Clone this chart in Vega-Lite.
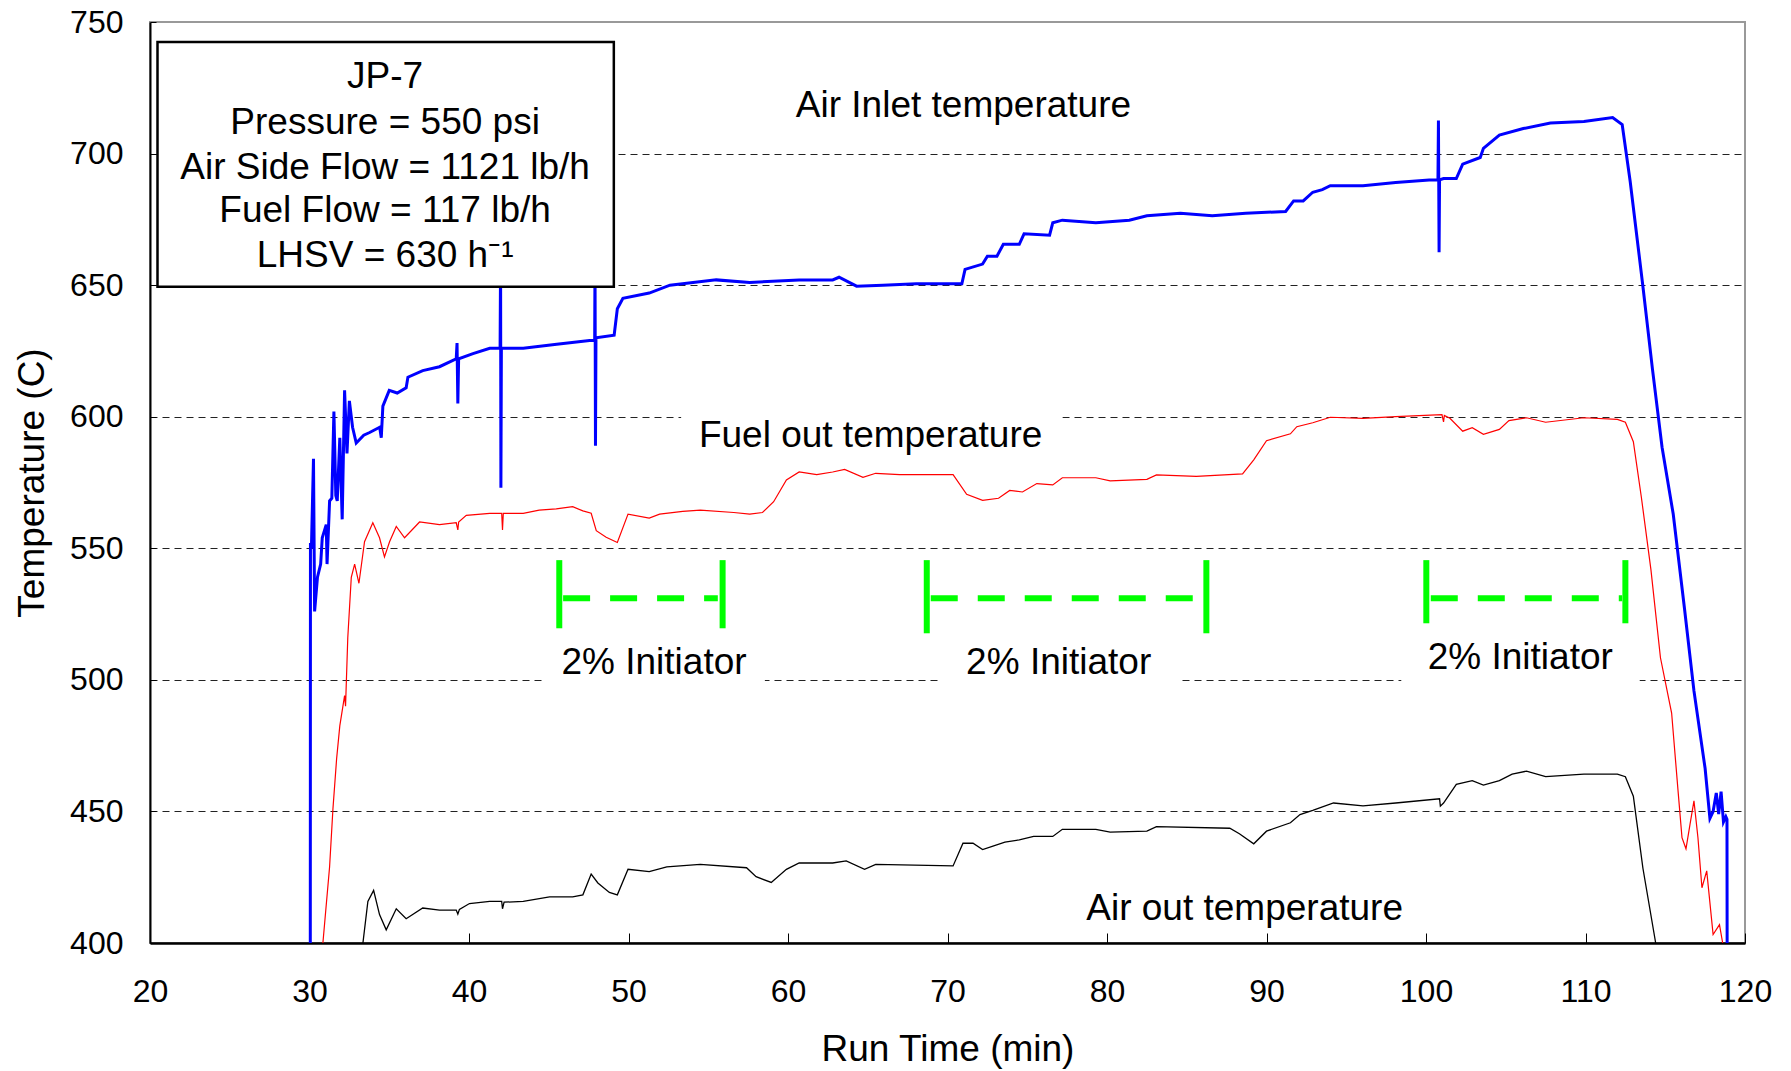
{
  "$schema": "https://vega.github.io/schema/vega-lite/v6.json",
  "width": 1595,
  "height": 921,
  "autosize": {"type": "none"},
  "padding": {"left": 150, "top": 22, "right": 46, "bottom": 128},
  "background": "white",
  "config": {
    "font": "Liberation Sans",
    "view": {"stroke": "#999999", "strokeWidth": 2}
  },
  "datasets": {
    "air_inlet": [
      {"t": 30.05, "temp": 400}, {"t": 30.06, "temp": 552}, {"t": 30.12, "temp": 550}, {"t": 30.25, "temp": 584},
      {"t": 30.32, "temp": 526}, {"t": 30.5, "temp": 539}, {"t": 30.7, "temp": 544}, {"t": 30.8, "temp": 554},
      {"t": 31.05, "temp": 559}, {"t": 31.1, "temp": 544}, {"t": 31.26, "temp": 568}, {"t": 31.4, "temp": 569},
      {"t": 31.53, "temp": 602}, {"t": 31.65, "temp": 570}, {"t": 31.74, "temp": 568}, {"t": 31.9, "temp": 592},
      {"t": 32.05, "temp": 561}, {"t": 32.2, "temp": 610}, {"t": 32.35, "temp": 586}, {"t": 32.5, "temp": 606},
      {"t": 32.7, "temp": 596}, {"t": 32.93, "temp": 590}, {"t": 33.4, "temp": 593}, {"t": 33.77, "temp": 594},
      {"t": 34.4, "temp": 596}, {"t": 34.5, "temp": 592}, {"t": 34.6, "temp": 604}, {"t": 35.0, "temp": 610},
      {"t": 35.5, "temp": 609}, {"t": 36.06, "temp": 611}, {"t": 36.17, "temp": 615}, {"t": 37.1, "temp": 617.5},
      {"t": 38.15, "temp": 619}, {"t": 39.2, "temp": 622}, {"t": 39.25, "temp": 628}, {"t": 39.3, "temp": 605},
      {"t": 39.35, "temp": 622}, {"t": 40.25, "temp": 624}, {"t": 41.3, "temp": 626}, {"t": 41.95, "temp": 626},
      {"t": 41.98, "temp": 660}, {"t": 42.0, "temp": 573}, {"t": 42.03, "temp": 626}, {"t": 43.4, "temp": 626},
      {"t": 45.5, "temp": 627.5}, {"t": 47.56, "temp": 629}, {"t": 47.88, "temp": 629}, {"t": 47.9, "temp": 660},
      {"t": 47.93, "temp": 589}, {"t": 47.96, "temp": 630}, {"t": 49.1, "temp": 631}, {"t": 49.3, "temp": 641},
      {"t": 49.65, "temp": 645}, {"t": 51.3, "temp": 647}, {"t": 52.6, "temp": 650}, {"t": 55.5, "temp": 652},
      {"t": 57.6, "temp": 651}, {"t": 60.7, "temp": 652}, {"t": 62.8, "temp": 652}, {"t": 63.2, "temp": 653},
      {"t": 64.3, "temp": 649.6}, {"t": 65.95, "temp": 650}, {"t": 68.05, "temp": 650.5}, {"t": 70.9, "temp": 650.5},
      {"t": 71.1, "temp": 656}, {"t": 72.2, "temp": 658}, {"t": 72.5, "temp": 661}, {"t": 73.1, "temp": 661},
      {"t": 73.5, "temp": 665.5}, {"t": 74.5, "temp": 665.5}, {"t": 74.8, "temp": 669.5}, {"t": 76.4, "temp": 669},
      {"t": 76.6, "temp": 673.7}, {"t": 77.2, "temp": 674.7}, {"t": 79.3, "temp": 673.7}, {"t": 81.4, "temp": 674.7},
      {"t": 82.5, "temp": 676.4}, {"t": 84.6, "temp": 677.3}, {"t": 86.6, "temp": 676.4}, {"t": 88.7, "temp": 677.3},
      {"t": 91.2, "temp": 678}, {"t": 91.7, "temp": 682}, {"t": 92.3, "temp": 682}, {"t": 92.9, "temp": 685.3},
      {"t": 93.5, "temp": 686.3}, {"t": 94.0, "temp": 687.8}, {"t": 96.05, "temp": 687.8}, {"t": 98.1, "temp": 689},
      {"t": 100.2, "temp": 690}, {"t": 100.75, "temp": 690}, {"t": 100.78, "temp": 712.6}, {"t": 100.82, "temp": 662.5},
      {"t": 100.85, "temp": 690}, {"t": 101.1, "temp": 690.5}, {"t": 101.9, "temp": 690.5}, {"t": 102.3, "temp": 696},
      {"t": 103.4, "temp": 698.5}, {"t": 103.6, "temp": 702}, {"t": 104.6, "temp": 707}, {"t": 106.1, "temp": 709.5},
      {"t": 107.8, "temp": 711.6}, {"t": 109.9, "temp": 712.2}, {"t": 111.7, "temp": 713.7}, {"t": 112.3, "temp": 711},
      {"t": 112.8, "temp": 689.5}, {"t": 113.6, "temp": 649.5}, {"t": 114.2, "temp": 618}, {"t": 114.8, "temp": 588.4},
      {"t": 115.5, "temp": 563}, {"t": 116.2, "temp": 527.4}, {"t": 116.8, "temp": 495.8}, {"t": 117.5, "temp": 466.3},
      {"t": 117.8, "temp": 447.4}, {"t": 118.0, "temp": 450}, {"t": 118.2, "temp": 457}, {"t": 118.35, "temp": 449},
      {"t": 118.5, "temp": 457.5}, {"t": 118.65, "temp": 446}, {"t": 118.8, "temp": 448}, {"t": 118.87, "temp": 447},
      {"t": 118.88, "temp": 400}
    ],
    "fuel_out": [
      {"t": 30.84, "temp": 400}, {"t": 31.26, "temp": 429}, {"t": 31.47, "temp": 451}, {"t": 31.7, "temp": 470},
      {"t": 31.9, "temp": 482.5}, {"t": 32.2, "temp": 494}, {"t": 32.26, "temp": 490}, {"t": 32.4, "temp": 516},
      {"t": 32.62, "temp": 539}, {"t": 32.83, "temp": 544}, {"t": 33.1, "temp": 536.7}, {"t": 33.45, "temp": 552.5},
      {"t": 33.97, "temp": 559.7}, {"t": 34.39, "temp": 554}, {"t": 34.7, "temp": 546.7}, {"t": 35.02, "temp": 552.5},
      {"t": 35.44, "temp": 558.3}, {"t": 35.96, "temp": 554}, {"t": 36.9, "temp": 560}, {"t": 38.15, "temp": 559},
      {"t": 39.2, "temp": 559.7}, {"t": 39.3, "temp": 557}, {"t": 39.35, "temp": 560}, {"t": 39.83, "temp": 562.5},
      {"t": 41.3, "temp": 563.3}, {"t": 42.05, "temp": 563.3}, {"t": 42.1, "temp": 557}, {"t": 42.15, "temp": 563.3},
      {"t": 43.4, "temp": 563.3}, {"t": 44.4, "temp": 564.5}, {"t": 45.47, "temp": 565}, {"t": 46.5, "temp": 565.8},
      {"t": 47.14, "temp": 564.2}, {"t": 47.66, "temp": 563.3}, {"t": 47.98, "temp": 556.7}, {"t": 48.6, "temp": 554.2},
      {"t": 49.3, "temp": 552.2}, {"t": 49.97, "temp": 563}, {"t": 51.3, "temp": 561.5}, {"t": 51.95, "temp": 563},
      {"t": 53.4, "temp": 564}, {"t": 54.5, "temp": 564.5}, {"t": 56.6, "temp": 563.6}, {"t": 57.6, "temp": 563},
      {"t": 58.4, "temp": 563.6}, {"t": 59.1, "temp": 567.7}, {"t": 59.9, "temp": 576}, {"t": 60.7, "temp": 579},
      {"t": 61.8, "temp": 578}, {"t": 62.8, "temp": 579}, {"t": 63.55, "temp": 580}, {"t": 64.7, "temp": 577},
      {"t": 65.5, "temp": 578.5}, {"t": 67.0, "temp": 578}, {"t": 70.35, "temp": 578}, {"t": 71.2, "temp": 570.5},
      {"t": 72.2, "temp": 568.2}, {"t": 73.2, "temp": 569}, {"t": 73.9, "temp": 572}, {"t": 74.7, "temp": 571.4},
      {"t": 75.6, "temp": 574.6}, {"t": 76.6, "temp": 574.1}, {"t": 77.2, "temp": 576.8}, {"t": 79.3, "temp": 576.8},
      {"t": 80.2, "temp": 575.6}, {"t": 82.5, "temp": 576.2}, {"t": 83.1, "temp": 577.9}, {"t": 85.6, "temp": 577.3},
      {"t": 88.5, "temp": 578.3}, {"t": 89.2, "temp": 583.6}, {"t": 90.0, "temp": 590.9}, {"t": 91.5, "temp": 593.5},
      {"t": 91.9, "temp": 596.2}, {"t": 92.9, "temp": 597.7}, {"t": 94.0, "temp": 599.8}, {"t": 96.05, "temp": 599.4},
      {"t": 98.1, "temp": 600}, {"t": 101.0, "temp": 600.8}, {"t": 101.1, "temp": 598}, {"t": 101.15, "temp": 600.5},
      {"t": 101.5, "temp": 599.4}, {"t": 102.3, "temp": 594.5}, {"t": 102.9, "temp": 595.8}, {"t": 103.6, "temp": 593.3},
      {"t": 104.6, "temp": 595.2}, {"t": 105.2, "temp": 598.5}, {"t": 106.3, "temp": 599.6}, {"t": 107.5, "temp": 597.9},
      {"t": 109.9, "temp": 599.6}, {"t": 112.0, "temp": 599}, {"t": 112.5, "temp": 597.9}, {"t": 113.0, "temp": 590.5},
      {"t": 113.5, "temp": 569.5}, {"t": 114.1, "temp": 542}, {"t": 114.7, "temp": 508.4}, {"t": 115.4, "temp": 487.4},
      {"t": 115.8, "temp": 458}, {"t": 116.05, "temp": 440}, {"t": 116.3, "temp": 435.8}, {"t": 116.55, "temp": 445},
      {"t": 116.8, "temp": 454}, {"t": 117.05, "temp": 440}, {"t": 117.3, "temp": 421}, {"t": 117.6, "temp": 427.4},
      {"t": 118.0, "temp": 403.2}, {"t": 118.4, "temp": 407}, {"t": 118.6, "temp": 400}
    ],
    "air_out": [
      {"t": 33.35, "temp": 400}, {"t": 33.66, "temp": 415.8}, {"t": 34.02, "temp": 420}, {"t": 34.39, "temp": 410.8},
      {"t": 34.81, "temp": 405}, {"t": 35.44, "temp": 413}, {"t": 36.06, "temp": 409.2}, {"t": 37.1, "temp": 413.3},
      {"t": 38.15, "temp": 412.5}, {"t": 39.2, "temp": 412.5}, {"t": 39.3, "temp": 411}, {"t": 39.4, "temp": 412.8},
      {"t": 40.03, "temp": 415}, {"t": 41.3, "temp": 415.8}, {"t": 42.05, "temp": 415.8}, {"t": 42.1, "temp": 413},
      {"t": 42.2, "temp": 415.5}, {"t": 43.4, "temp": 415.8}, {"t": 45.05, "temp": 417.5}, {"t": 46.5, "temp": 417.5},
      {"t": 47.14, "temp": 418.3}, {"t": 47.66, "temp": 426.2}, {"t": 48.08, "temp": 422.8}, {"t": 48.8, "temp": 419.2},
      {"t": 49.3, "temp": 418.3}, {"t": 49.97, "temp": 428}, {"t": 51.3, "temp": 427.1}, {"t": 52.4, "temp": 428.9},
      {"t": 54.5, "temp": 429.9}, {"t": 57.4, "temp": 428.6}, {"t": 58.0, "temp": 425.2}, {"t": 58.95, "temp": 423},
      {"t": 59.9, "temp": 428}, {"t": 60.7, "temp": 430.4}, {"t": 62.8, "temp": 430.4}, {"t": 63.65, "temp": 431.2},
      {"t": 64.8, "temp": 428}, {"t": 65.5, "temp": 429.9}, {"t": 70.35, "temp": 429.3}, {"t": 70.97, "temp": 437.9},
      {"t": 71.6, "temp": 437.9}, {"t": 72.2, "temp": 435.5}, {"t": 72.85, "temp": 436.8}, {"t": 73.6, "temp": 438.3},
      {"t": 74.5, "temp": 439.2}, {"t": 75.4, "temp": 440.5}, {"t": 76.6, "temp": 440.5}, {"t": 77.2, "temp": 443.2},
      {"t": 79.3, "temp": 443.2}, {"t": 80.2, "temp": 442.1}, {"t": 82.5, "temp": 442.5}, {"t": 83.1, "temp": 444.2},
      {"t": 87.7, "temp": 443.6}, {"t": 88.3, "temp": 441.5}, {"t": 89.2, "temp": 437.7}, {"t": 90.0, "temp": 442.5},
      {"t": 91.5, "temp": 445.7}, {"t": 92.1, "temp": 448.8}, {"t": 92.9, "temp": 450.4}, {"t": 94.2, "temp": 453.2},
      {"t": 96.05, "temp": 452.1}, {"t": 98.1, "temp": 453.2}, {"t": 100.85, "temp": 454.8}, {"t": 100.9, "temp": 452},
      {"t": 101.1, "temp": 453.2}, {"t": 101.9, "temp": 460.3}, {"t": 102.9, "temp": 461.7}, {"t": 103.6, "temp": 460},
      {"t": 104.6, "temp": 461.7}, {"t": 105.4, "temp": 464.2}, {"t": 106.3, "temp": 465.3}, {"t": 107.5, "temp": 463.2},
      {"t": 109.9, "temp": 464.2}, {"t": 112.0, "temp": 464.2}, {"t": 112.5, "temp": 463.2}, {"t": 113.0, "temp": 455.8},
      {"t": 113.6, "temp": 428.4}, {"t": 114.4, "temp": 400}
    ],
    "label_bg": [
      {"t": 53.3, "t2": 77.2, "temp": 586, "temp2": 604},
      {"t": 44.6, "t2": 58.55, "temp": 497, "temp2": 516},
      {"t": 69.6, "t2": 84.5, "temp": 497, "temp2": 516},
      {"t": 98.45, "t2": 113.4, "temp": 497, "temp2": 516}
    ],
    "marker_dash": [
      {"t": 45.9, "t2": 55.6, "temp": 531},
      {"t": 68.95, "t2": 86.0, "temp": 531},
      {"t": 100.3, "t2": 112.3, "temp": 531}
    ],
    "marker_bar": [
      {"t": 45.66, "temp": 519.6, "temp2": 545.5},
      {"t": 55.9, "temp": 519.6, "temp2": 545.5},
      {"t": 68.7, "temp": 517.7, "temp2": 545.5},
      {"t": 86.23, "temp": 517.7, "temp2": 545.5},
      {"t": 100.02, "temp": 521.5, "temp2": 545.5},
      {"t": 112.5, "temp": 521.5, "temp2": 545.5}
    ],
    "labels": [
      {"t": 71.0, "temp": 713.9, "text": "Air Inlet temperature"},
      {"t": 65.18, "temp": 588.6, "text": "Fuel out temperature"},
      {"t": 51.6, "temp": 502.2, "text": "2% Initiator"},
      {"t": 76.97, "temp": 502.2, "text": "2% Initiator"},
      {"t": 105.91, "temp": 504.1, "text": "2% Initiator"},
      {"t": 88.63, "temp": 408.8, "text": "Air out temperature"}
    ],
    "box": [
      {"t": 20.47, "t2": 49.08, "temp": 649.4, "temp2": 742.4}
    ],
    "box_text": [
      {"t": 34.74, "temp": 725.1, "text": "JP-7"},
      {"t": 34.74, "temp": 707.6, "text": "Pressure = 550 psi"},
      {"t": 34.74, "temp": 690.5, "text": "Air Side Flow = 1121 lb/h"},
      {"t": 34.74, "temp": 674.0, "text": "Fuel Flow = 117 lb/h"},
      {"t": 34.74, "temp": 657.0, "text": "LHSV = 630 h⁻¹"}
    ]
  },
  "layer": [
    {
      "data": {"name": "label_bg"},
      "mark": {"type": "rect", "fill": "white", "strokeWidth": 0},
      "encoding": {
        "x": {"field": "t", "type": "quantitative", "title": "Run Time (min)",
          "scale": {"domain": [20, 120], "nice": false, "zero": false},
          "axis": {
            "values": [20, 30, 40, 50, 60, 70, 80, 90, 100, 110, 120],
            "grid": false, "tickSize": -10, "tickColor": "black", "tickWidth": 1,
            "domainColor": "black", "domainWidth": 2.5,
            "labelFontSize": 32, "labelColor": "black", "labelPadding": 43, "labelFlush": false, "labelOverlap": false,
            "titleFontSize": 37, "titleFontWeight": "normal", "titleColor": "black", "titlePadding": 24
          }
        },
        "x2": {"field": "t2"},
        "y": {"field": "temp", "type": "quantitative", "title": "Temperature (C)",
          "scale": {"domain": [400, 750], "nice": false, "zero": false},
          "axis": {
            "values": [400, 450, 500, 550, 600, 650, 700, 750],
            "grid": true, "gridDash": [7, 5], "gridColor": "#222222", "gridWidth": 1,
            "gridOpacity": {"condition": {"test": "datum.value == 400 || datum.value == 750", "value": 0}, "value": 1},
            "tickSize": -6, "tickColor": "black", "tickWidth": 1,
            "domainColor": "black", "domainWidth": 2,
            "labelFontSize": 32, "labelColor": "black", "labelPadding": 33, "labelFlush": false, "labelOverlap": false,
            "titleFontSize": 37, "titleFontWeight": "normal", "titleColor": "black", "titlePadding": 18
          }
        },
        "y2": {"field": "temp2"}
      }
    },
    {
      "data": {"name": "air_out"},
      "mark": {"type": "line", "color": "black", "strokeWidth": 1.3},
      "encoding": {
        "x": {"field": "t", "type": "quantitative", "title": "Run Time (min)", "scale": {"domain": [20, 120], "nice": false, "zero": false}},
        "y": {"field": "temp", "type": "quantitative", "title": "Temperature (C)", "scale": {"domain": [400, 750], "nice": false, "zero": false}},
        "order": {"value": null}
      }
    },
    {
      "data": {"name": "fuel_out"},
      "mark": {"type": "line", "color": "#ff0000", "strokeWidth": 1.2},
      "encoding": {
        "x": {"field": "t", "type": "quantitative", "title": "Run Time (min)", "scale": {"domain": [20, 120], "nice": false, "zero": false}},
        "y": {"field": "temp", "type": "quantitative", "title": "Temperature (C)", "scale": {"domain": [400, 750], "nice": false, "zero": false}},
        "order": {"value": null}
      }
    },
    {
      "data": {"name": "air_inlet"},
      "mark": {"type": "line", "color": "#0000ff", "strokeWidth": 3},
      "encoding": {
        "x": {"field": "t", "type": "quantitative", "title": "Run Time (min)", "scale": {"domain": [20, 120], "nice": false, "zero": false}},
        "y": {"field": "temp", "type": "quantitative", "title": "Temperature (C)", "scale": {"domain": [400, 750], "nice": false, "zero": false}},
        "order": {"value": null}
      }
    },
    {
      "data": {"name": "marker_dash"},
      "mark": {"type": "rule", "color": "#00ff00", "strokeWidth": 6, "strokeDash": [27, 20]},
      "encoding": {
        "x": {"field": "t", "type": "quantitative", "title": "Run Time (min)", "scale": {"domain": [20, 120], "nice": false, "zero": false}},
        "x2": {"field": "t2"},
        "y": {"field": "temp", "type": "quantitative", "title": "Temperature (C)", "scale": {"domain": [400, 750], "nice": false, "zero": false}}
      }
    },
    {
      "data": {"name": "marker_bar"},
      "mark": {"type": "rule", "color": "#00ff00", "strokeWidth": 6},
      "encoding": {
        "x": {"field": "t", "type": "quantitative", "title": "Run Time (min)", "scale": {"domain": [20, 120], "nice": false, "zero": false}},
        "y": {"field": "temp", "type": "quantitative", "title": "Temperature (C)", "scale": {"domain": [400, 750], "nice": false, "zero": false}},
        "y2": {"field": "temp2"}
      }
    },
    {
      "data": {"name": "labels"},
      "mark": {"type": "text", "fontSize": 37, "color": "black", "align": "center", "baseline": "alphabetic", "font": "Liberation Sans"},
      "encoding": {
        "x": {"field": "t", "type": "quantitative", "title": "Run Time (min)", "scale": {"domain": [20, 120], "nice": false, "zero": false}},
        "y": {"field": "temp", "type": "quantitative", "title": "Temperature (C)", "scale": {"domain": [400, 750], "nice": false, "zero": false}},
        "text": {"field": "text"}
      }
    },
    {
      "data": {"name": "box"},
      "mark": {"type": "rect", "fill": "white", "stroke": "black", "strokeWidth": 2.5},
      "encoding": {
        "x": {"field": "t", "type": "quantitative", "title": "Run Time (min)", "scale": {"domain": [20, 120], "nice": false, "zero": false}},
        "x2": {"field": "t2"},
        "y": {"field": "temp", "type": "quantitative", "title": "Temperature (C)", "scale": {"domain": [400, 750], "nice": false, "zero": false}},
        "y2": {"field": "temp2"}
      }
    },
    {
      "data": {"name": "box_text"},
      "mark": {"type": "text", "fontSize": 37, "color": "black", "align": "center", "baseline": "alphabetic", "font": "Liberation Sans"},
      "encoding": {
        "x": {"field": "t", "type": "quantitative", "title": "Run Time (min)", "scale": {"domain": [20, 120], "nice": false, "zero": false}},
        "y": {"field": "temp", "type": "quantitative", "title": "Temperature (C)", "scale": {"domain": [400, 750], "nice": false, "zero": false}},
        "text": {"field": "text"}
      }
    }
  ]
}
